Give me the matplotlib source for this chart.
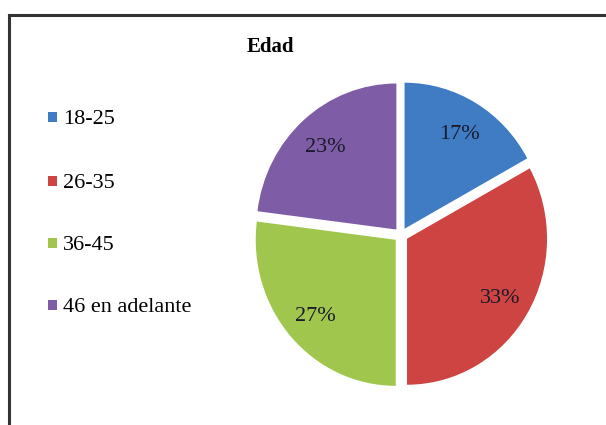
import matplotlib
matplotlib.use("Agg")
import matplotlib.pyplot as plt
from matplotlib.patches import Rectangle
from matplotlib.lines import Line2D

categories = ["18-25", "26-35", "36-45", "46 en adelante"]
values = [17, 33, 27, 23]
pct_labels = ["17%", "33%", "27%", "23%"]
colors = ["#3F7CC4", "#CD4442", "#A0C64E", "#7E5CA6"]
title = "Edad"

W, H = 606, 425
fig = plt.figure(figsize=(W / 100, H / 100), dpi=100)
fig.patch.set_facecolor("white")

# chart border (top and left visible, extends beyond right/bottom)
fig.add_artist(Line2D([9 / W, 1.0], [1 - 15 / H, 1 - 15 / H], color="#333333", lw=2.2))
fig.add_artist(Line2D([9 / W, 9 / W], [0.0, 1 - 15 / H], color="#333333", lw=2.2))

# pie axes: slightly taller than wide, like the reference
rx, ry = 140, 146
cx, cy = 401, 235
lim = 1.06
ax = fig.add_axes([(cx - rx * lim) / W, 1 - (cy + ry * lim) / H,
                   2 * rx * lim / W, 2 * ry * lim / H])
wedges, texts, autotexts = ax.pie(
    values,
    colors=colors,
    startangle=90,
    counterclock=False,
    explode=[0.05] * len(values),
    labels=None,
    autopct=lambda p: "",
    pctdistance=0.77,
    radius=1.0,
    wedgeprops=dict(edgecolor="none", linewidth=0),
)
for t, lab in zip(autotexts, pct_labels):
    t.set_text(lab)
    t.set_fontfamily("Liberation Serif")
    t.set_fontsize(16)
    t.set_color("#1a1a2a")
    t.set_verticalalignment("center_baseline")
ax.set_aspect("auto")
ax.set_xlim(-lim, lim)
ax.set_ylim(-lim, lim)
ax.axis("off")

# title
fig.text(270 / W, 1 - 47 / H, title, ha="center", va="center",
         fontfamily="Liberation Serif", fontweight="bold", fontsize=15)

# legend
ys = [117, 181, 243, 305]
for cat, col, y in zip(categories, colors, ys):
    fig.add_artist(Rectangle((48 / W, 1 - (y + 5) / H), 9 / W, 10 / H,
                             facecolor=col, edgecolor="none", transform=fig.transFigure))
    fig.text(63 / W, 1 - y / H, cat, ha="left", va="center_baseline",
             fontfamily="Liberation Serif", fontsize=16, color="black")

fig.savefig("out.png", dpi=100)
